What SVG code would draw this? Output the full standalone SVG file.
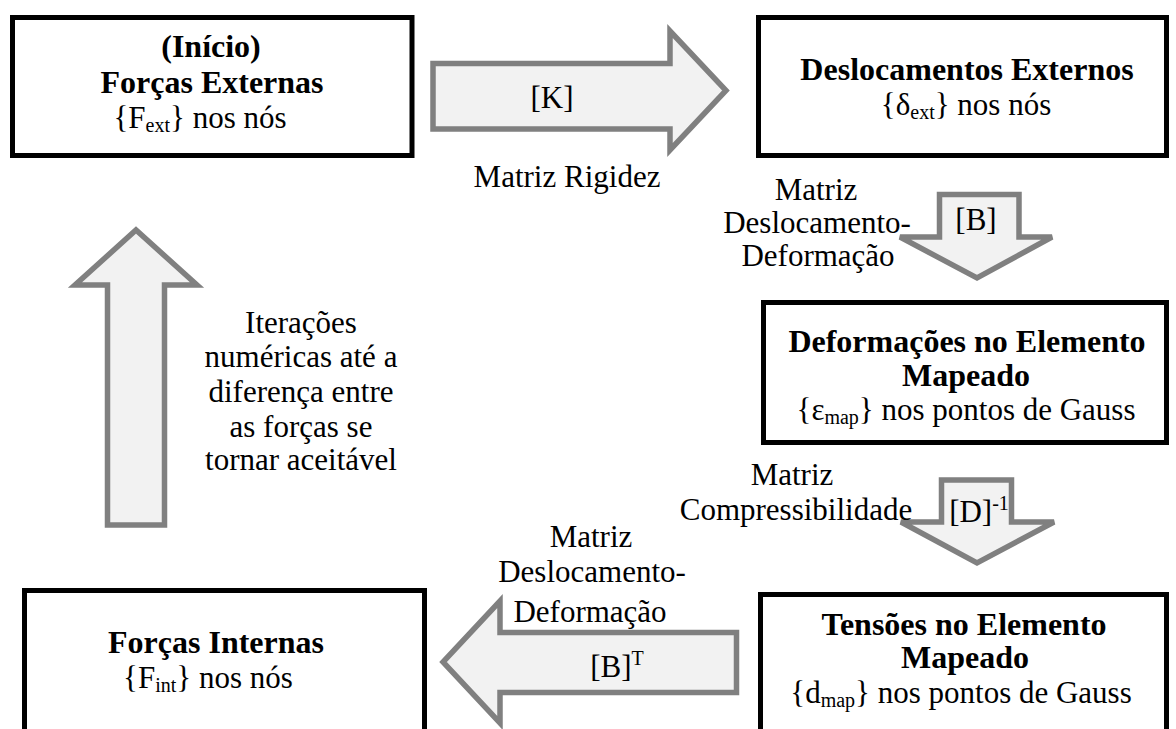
<svg xmlns="http://www.w3.org/2000/svg" width="1176" height="729" viewBox="0 0 1176 729">
<style>
text{font-family:"Liberation Serif","Times New Roman",serif;font-size:31px;fill:#000;text-anchor:middle}
.b{font-weight:bold;font-size:32px}
.box{fill:#fff;stroke:#000;stroke-width:5}
.arr{fill:#f2f2f2;stroke:#808080;stroke-width:5.5;stroke-linejoin:miter}
.sub{font-size:20px}
</style>
<rect width="1176" height="729" fill="#fff"/>
<g id="connectors">
  <g id="arrow-K">
    <path class="arr" d="M433,63.5 H670 V31 L726,90.5 L670,150 V129 H433 Z"/>
    <text x="552" y="108">[K]</text>
    <text x="567" y="187">Matriz Rigidez</text>
  </g>
  <g id="arrow-B">
    <path class="arr" d="M939.5,194.5 H1019 V237 H1052 L977,278 L900,237 H939.5 Z"/>
    <text x="976" y="230">[B]</text>
    <text x="816" y="200">Matriz</text>
    <text x="817" y="233">Deslocamento-</text>
    <text x="818" y="266">Deformação</text>
  </g>
  <g id="arrow-D">
    <path class="arr" d="M941.5,480 H1011.5 V522 H1054 L977,563 L901,522 H941.5 Z"/>
    <text x="792" y="485">Matriz</text>
    <text x="796" y="520">Compressibilidade</text>
    <text x="979" y="522">[D]<tspan class="sub" dy="-12">-1</tspan></text>
  </g>
  <g id="arrow-BT">
    <path class="arr" d="M736.5,632.5 H500 V601 L443,662 L500,723 V692.5 H736.5 Z"/>
    <text x="591" y="547">Matriz</text>
    <text x="592" y="582">Deslocamento-</text>
    <text x="590" y="622">Deformação</text>
    <text x="617" y="677">[B]<tspan class="sub" dy="-12">T</tspan></text>
  </g>
  <g id="arrow-iter">
    <path class="arr" d="M107.5,525 V285 H75 L136,230 L197,285 H164.5 V525 Z"/>
    <text x="301" y="333">Iterações</text>
    <text x="301" y="367">numéricas até a</text>
    <text x="301" y="402">diferença entre</text>
    <text x="301" y="437">as forças se</text>
    <text x="301" y="470">tornar aceitável</text>
  </g>
</g>
<g id="node-forcas-externas">
  <rect class="box" x="12.5" y="17.5" width="399.5" height="138"/>
  <text class="b" x="211" y="57">(Início)</text>
  <text class="b" x="212" y="93">Forças Externas</text>
  <text x="200" y="128">{F<tspan class="sub" dy="4">ext</tspan><tspan dy="-4">} nos nós</tspan></text>
</g>
<g id="node-deslocamentos">
  <rect class="box" x="758.5" y="17.5" width="408" height="138"/>
  <text class="b" x="967" y="80">Deslocamentos Externos</text>
  <text x="966" y="115">{δ<tspan class="sub" dy="4">ext</tspan><tspan dy="-4">} nos nós</tspan></text>
</g>
<g id="node-deformacoes">
  <rect class="box" x="763.5" y="302.5" width="403" height="140"/>
  <text class="b" x="967" y="352">Deformações no Elemento</text>
  <text class="b" x="966" y="386">Mapeado</text>
  <text x="966" y="420">{ε<tspan class="sub" dy="4">map</tspan><tspan dy="-4">} nos pontos de Gauss</tspan></text>
</g>
<g id="node-tensoes">
  <rect class="box" x="760.5" y="594.5" width="406" height="160"/>
  <text class="b" x="964" y="635">Tensões no Elemento</text>
  <text class="b" x="965" y="668">Mapeado</text>
  <text x="961" y="703">{d<tspan class="sub" dy="4">map</tspan><tspan dy="-4">} nos pontos de Gauss</tspan></text>
</g>
<g id="node-forcas-internas">
  <rect class="box" x="24.5" y="590.5" width="400" height="160"/>
  <text class="b" x="216" y="653">Forças Internas</text>
  <text x="208" y="688">{F<tspan class="sub" dy="4">int</tspan><tspan dy="-4">} nos nós</tspan></text>
</g>
</svg>
